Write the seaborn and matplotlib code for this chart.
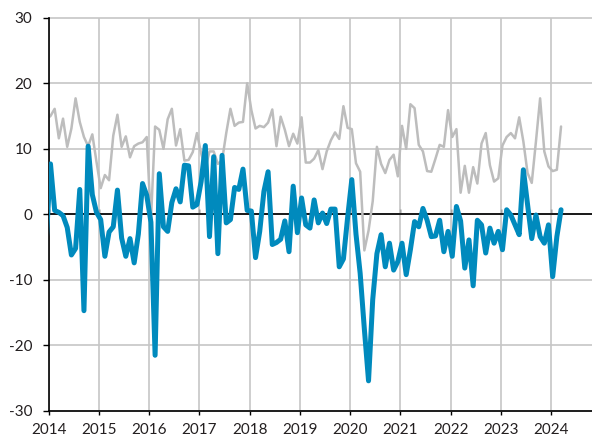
import numpy as np
import pandas as pd
import matplotlib
matplotlib.use("Agg")
import matplotlib.pyplot as plt
import seaborn as sns

# Monthly series, Dec 2013 (clipped at the left edge) through Mar 2024
first_year = 2013
first_month = 12
gray_values = [
    14.5,
    15.0, 16.1, 11.6, 14.6, 10.3, 13.1, 17.7, 14.1, 11.8, 10.4, 12.2, 8.0,   # 2014
    4.0, 6.0, 5.2, 12.0, 15.2, 10.3, 11.9, 8.7, 10.4, 10.8, 11.0, 11.8,     # 2015
    -1.0, 13.4, 12.9, 10.0, 14.5, 16.1, 10.5, 13.0, 8.2, 8.3, 9.5, 12.4,    # 2016
    9.3, 7.0, 9.6, 9.6, 7.7, 8.2, 12.4, 16.1, 13.5, 14.0, 14.1, 20.0,       # 2017
    15.9, 13.1, 13.5, 13.3, 14.0, 16.0, 10.4, 14.9, 12.9, 10.4, 12.3, 10.8, # 2018
    14.8, 7.9, 7.9, 8.5, 9.8, 6.9, 9.6, 11.3, 12.5, 11.5, 16.5, 13.2,       # 2019
    13.0, 7.8, 6.5, -5.5, -2.5, 2.0, 10.3, 7.7, 6.3, 8.3, 9.1, 5.8,         # 2020
    13.5, 10.0, 16.8, 16.2, 10.6, 9.6, 6.6, 6.5, 8.5, 10.6, 10.3, 15.9,     # 2021
    11.8, 13.0, 3.3, 7.4, 3.3, 7.2, 4.7, 10.8, 12.4, 7.5, 5.0, 5.5,         # 2022
    10.5, 11.8, 12.4, 11.6, 14.8, 11.1, 6.3, 4.8, 11.1, 17.7, 9.6, 7.3,     # 2023
    6.6, 6.8, 13.4,                                                         # 2024
]
blue_values = [
    -4.0,
    7.7, 0.6, 0.3, -0.2, -2.0, -6.2, -5.2, 3.8, -14.7, 10.4, 3.0, 0.3,      # 2014
    -0.8, -6.4, -2.7, -1.9, 3.7, -3.6, -6.4, -3.7, -7.4, -3.0, 4.7, 2.9,    # 2015
    -1.2, -21.5, 6.2, -1.9, -2.6, 1.8, 3.9, 1.9, 7.5, 7.4, 1.1, 1.5,        # 2016
    5.0, 10.5, -3.4, 8.8, -6.0, 9.0, -1.3, -0.8, 4.1, 3.8, 6.9, 0.6,        # 2017
    0.5, -6.6, -2.6, 3.5, 6.5, -4.6, -4.3, -3.8, -1.0, -5.7, 4.3, -2.8,     # 2018
    2.5, -1.6, -2.1, 2.2, -1.3, 0.2, -1.4, 0.8, 0.8, -8.0, -6.8, -0.5,      # 2019
    5.3, -3.0, -9.0, -17.5, -25.4, -13.0, -6.0, -3.1, -8.0, -4.4, -8.5, -7.2,  # 2020
    -4.4, -9.2, -5.4, -1.1, -1.9, 0.9, -0.9, -3.4, -3.3, -0.9, -5.7, -2.6,  # 2021
    -6.4, 1.2, -1.0, -8.2, -3.9, -10.9, -0.9, -1.6, -5.9, -2.1, -4.4, -2.6, # 2022
    -5.4, 0.7, -0.1, -1.6, -3.1, 6.8, 1.5, -3.7, -0.1, -3.4, -4.4, -1.6,    # 2023
    -9.5, -3.4, 0.7,                                                        # 2024
]
year_ticks = list(range(2014, 2025))
y_ticks = [-30, -20, -10, 0, 10, 20, 30]

n = len(blue_values)
month_idx = np.arange(n) + (first_month - 1)
x = first_year + (month_idx + 0.4) / 12.0
df = pd.DataFrame({"x": x, "gray": gray_values, "blue": blue_values})

sns.set_theme(style="white")
plt.rcParams["font.family"] = ["Lato", "DejaVu Sans"]
text_color = "#231f20"

W, H = 592, 441
fig = plt.figure(figsize=(W / 100, H / 100), dpi=100)
left_px, top_px, bottom_px = 48.8, 17.7, 411.0
ax = fig.add_axes([left_px / W, 1 - bottom_px / H, (W - left_px) / W, (bottom_px - top_px) / H])

ax.axhline(0, color="black", lw=1.2, zorder=1.5)
sns.lineplot(data=df, x="x", y="gray", ax=ax, color="#bdbdbd", linewidth=1.8, zorder=2)
sns.lineplot(data=df, x="x", y="blue", ax=ax, color="#008abd", linewidth=3.6, zorder=3)

ax.set_xlim(2014, 2014 + (W - left_px) / 50.22)
ax.set_ylim(-30, 30)
ax.set_xticks(year_ticks)
ax.set_xticklabels([str(y) for y in year_ticks])
ax.set_yticks(y_ticks)
ax.set_yticklabels([str(v) for v in y_ticks])
ax.set_xlabel("")
ax.set_ylabel("")

ax.grid(True, color="#c6c6c6", lw=1.2)
ax.set_axisbelow(True)
for gl in ax.get_ygridlines():
    gl.set_clip_on(False)

for s in ["top", "right"]:
    ax.spines[s].set_visible(False)
for s in ["left", "bottom"]:
    ax.spines[s].set_color("black")
    ax.spines[s].set_linewidth(1.2)

ax.tick_params(axis="y", direction="out", length=4.3, width=1.0, color="black",
               pad=7.5, labelsize=11, labelcolor=text_color, left=True)
ax.tick_params(axis="x", direction="out", length=3, width=1.0, color="black",
               pad=6, labelsize=11, labelcolor=text_color, bottom=True)

# small ticks hanging from the zero line
sec = ax.secondary_xaxis(0.5)
sec.set_xticks(year_ticks)
sec.set_xticklabels([])
sec.spines["bottom"].set_visible(False)
sec.tick_params(axis="x", direction="out", length=3.5, width=1.0, color="black")

fig.savefig("out.png", dpi=100)
